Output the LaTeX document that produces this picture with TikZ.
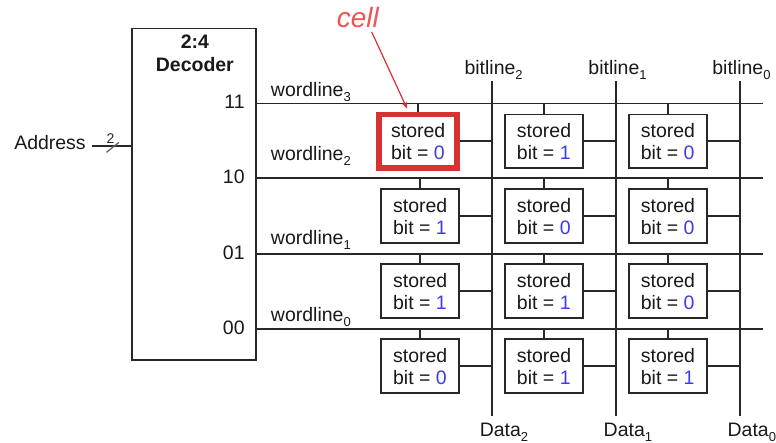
\documentclass[tikz,border=0pt]{standalone}
\usepackage{fontspec}
\setmainfont{Liberation Sans}
\usetikzlibrary{arrows.meta,calc}
\definecolor{wire}{RGB}{40,40,40}
\definecolor{bitblue}{RGB}{60,60,235}
\definecolor{cellred}{RGB}{215,50,50}
\definecolor{celltext}{RGB}{238,85,85}
% lowered index for wordline/bitline/Data names
\newcommand{\idx}[1]{\raisebox{-5bp}{\fontsize{13bp}{13bp}\selectfont #1}}
\newcommand{\bitv}[1]{\textcolor{bitblue}{#1}}

\begin{document}
\begin{tikzpicture}[x=1bp,y=-1bp,
  wire/.style={draw=wire, line width=1.8bp},
  txt/.style={font=\fontsize{19.5bp}{22bp}\selectfont, inner sep=0pt, text=black!90},
  memcell/.style={draw=wire, line width=1.8bp, fill=white, minimum width=78bp,
    minimum height=54bp, inner sep=0pt, align=left,
    font=\fontsize{19.5bp}{22bp}\selectfont, text=black!90},
  redcell/.style={memcell, draw=cellred, line width=5.5bp, minimum width=78bp,
    minimum height=53.5bp, xshift=-2bp},
]
% canvas
\fill[white] (0,0) rectangle (776,443);

% decoder
\node[draw=wire, line width=1.8bp, minimum width=124bp, minimum height=332bp, inner sep=0pt]
  (dec) at (194.5,194.5) {};
\node[txt, anchor=base, font=\fontsize{19.5bp}{22bp}\selectfont\bfseries] (dtop) at (195,49) {2:4};
\node[txt, anchor=base, font=\fontsize{19.5bp}{22bp}\selectfont\bfseries] (dname) at (195,71.7) {Decoder};

% address input with bus-width slash
\node[txt, anchor=base east] (addr) at (86,150) {Address};
\coordinate (addrin) at (92,146.5);
\draw[wire] (addrin) -- (addrin -| dec.west);
\draw[black!60, line width=1.3bp] (106.5,152.5) -- (119,142.5);
\node[inner sep=0pt, font=\fontsize{14bp}{14bp}\selectfont, text=black!85] (abits) at (110.5,138.5) {2};

% wordlines
\foreach \r/\y/\lb/\code in {3/103.5/96.7/11, 2/178.5/161/10, 1/254.5/245/01, 0/329.5/321.7/00}{
  \coordinate (wl-\r) at (256.5,\y);
  \coordinate (wle-\r) at (764,\y);
  \draw[wire] (wl-\r) -- (wle-\r);
  \node[txt, anchor=base east] (out-\r) at (245,\y+5) {\code};
  \node[txt, anchor=base west] (wlab-\r) at (271,\lb) {wordline\idx{\r}};
}

% bitlines
\foreach \k/\x in {2/492.5, 1/616.5, 0/740.5}{
  \coordinate (bl-\k) at (\x,81.5);
  \coordinate (ble-\k) at (\x,416.5);
  \draw[wire] (bl-\k) -- (ble-\k);
  \node[txt, anchor=base] (blab-\k) at (\x+1.5,75) {bitline\idx{\k}};
  \node[txt, anchor=base west] (data-\k) at (\x-12.5,436.7) {Data\idx{\k}};
}

% memory cells
\foreach \r/\y/\sty/\ba/\bb/\bc in {3/141.5/redcell/0/1/0, 2/216.5/memcell/1/0/0,
                                    1/291.5/memcell/1/1/0, 0/366.5/memcell/0/1/1}{
  \node[\sty] (c-\r-2) at (420.5,\y) {stored\\bit = \bitv{\ba}};
  \node[memcell] (c-\r-1) at (544.5,\y) {stored\\bit = \bitv{\bb}};
  \node[memcell] (c-\r-0) at (668.5,\y) {stored\\bit = \bitv{\bc}};
  \foreach \k in {2,1,0}{
    \draw[wire] (c-\r-\k.north) -- (c-\r-\k.north |- wl-\r);
    \draw[wire] (c-\r-\k.east) -- (c-\r-\k.east -| bl-\k);
  }
}
% the highlighted cell drawn again on top of its stubs
\node[redcell, fill=none] (hl) at (420.5,141.5) {};

% "cell" annotation
\node[anchor=base west, inner sep=0pt, text=celltext,
  font=\fontsize{28bp}{28bp}\selectfont\itshape] (celllab) at (337,28) {cell};
\draw[cellred, line width=1.2bp, -{Stealth[length=7bp,width=5bp]}]
  (372,32) -- ($(hl.north)+(-11,-3)$);
\end{tikzpicture}
\end{document}
